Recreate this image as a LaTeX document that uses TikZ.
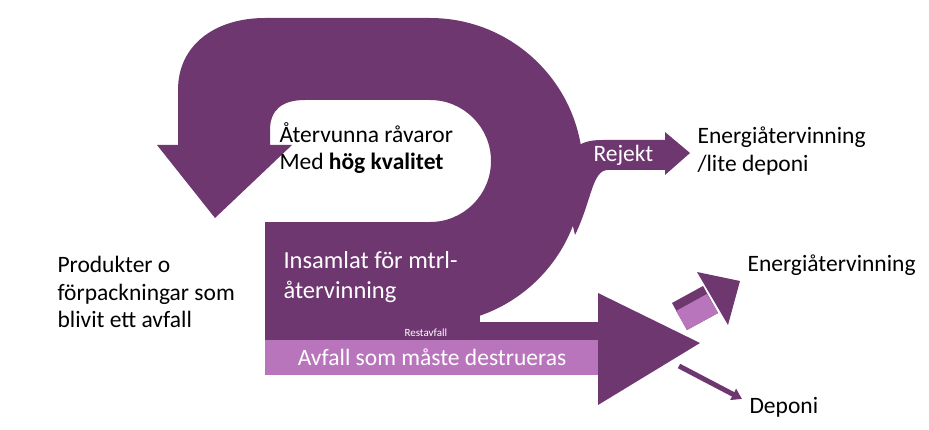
\documentclass[tikz,border=0pt]{standalone}
\usepackage{fontspec}
\setmainfont{Carlito}
\usetikzlibrary{arrows.meta}
\definecolor{lila}{HTML}{6E3770}
\definecolor{rosa}{HTML}{B975BB}
\tikzset{
  txt/.style={anchor=west, align=left, font=\fontsize{23.5}{27.5}\selectfont},
  vit/.style={txt, text=white}
}
\begin{document}
\begin{tikzpicture}[x=1pt,y=-1pt,>=Triangle]
  \useasboundingbox (0,0) rectangle (929,430);
  % loopen
  \fill[lila] (157,145) -- (178,145) -- (178,90) .. controls (178,45) and (215,18) .. (265,18)
    -- (430,18) arc (-90:90:153) -- (430,222) arc (90:-90:61) -- (305,100)
    .. controls (282,100) and (270,110) .. (270,130) -- (270,145) -- (292,145) -- (215,218) -- cycle;
  \fill[lila] (265,222) rectangle (480,340);
  % rejekt
  \fill[lila] (560,170) .. controls (570,148) and (580,140) .. (602,140) -- (665,140) -- (665,132)
    -- (690,153) -- (665,175) -- (665,170) -- (608,170) .. controls (592,170) and (592,200) .. (575,235) -- cycle;
  % stora pilen
  \fill[lila] (265,322) rectangle (600,375);
  \fill[rosa] (265,340) rectangle (600,375);
  \fill[lila] (598,293) -- (700,343) -- (598,405) -- cycle;
  % energi
  \fill[lila] (672,303) -- (703,286) -- (718,313) -- (687,330) -- cycle;
  \fill[rosa] (676,311) -- (707,294) -- (718,313) -- (687,330) -- cycle;
  \fill[lila] (697,272) -- (740,281) -- (728,325) -- cycle;
  % deponi
  \draw[lila, line width=5pt, -{Triangle[length=10pt,width=12pt]}] (679,366) -- (742,399);
  % texter
  \node[txt] (ater) at (276,148) {Återvunna råvaror\\Med \textbf{hög kvalitet}};
  \node[vit, font=\fontsize{24.5}{30}\selectfont] (insamlat) at (280,277) {Insamlat för mtrl-\\återvinning};
  \node[anchor=west, text=white, font=\fontsize{11}{12}\selectfont] (rest) at (401,333) {Restavfall};
  \node[text=white, font=\fontsize{23.5}{26}\selectfont] (avfall) at (432,357) {Avfall som måste destrueras};
  \node[vit] (rejekt) at (590,155) {Rejekt};
  \node[txt] (energi1) at (694,151) {Energiåtervinning\\/lite deponi};
  \node[txt] (prod) at (54,292) {Produkter o\\förpackningar som\\blivit ett avfall};
  \node[txt] (energi2) at (744,265) {Energiåtervinning};
  \node[txt] (dep) at (746,407) {Deponi};
\end{tikzpicture}
\end{document}
